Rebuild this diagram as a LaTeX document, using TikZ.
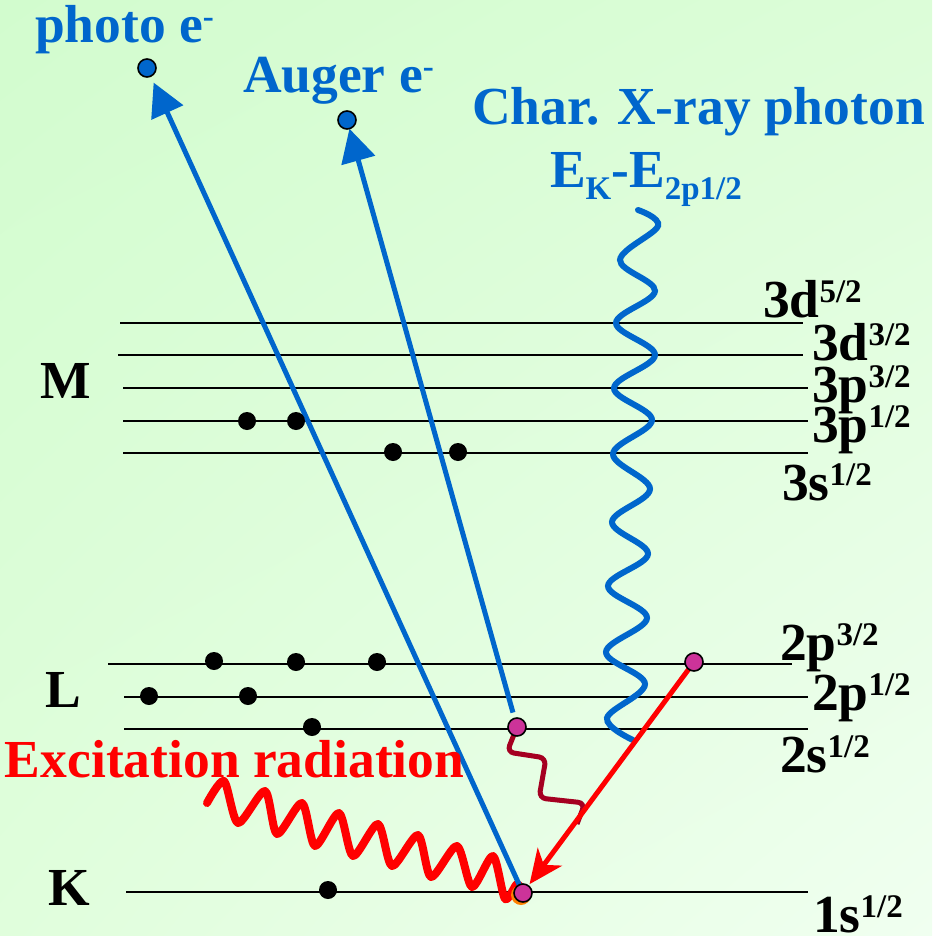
\documentclass[tikz,border=0pt]{standalone}
\usepackage{fontspec}
\setmainfont{Liberation Serif}
\usetikzlibrary{arrows.meta,shadings}
\definecolor{eblue}{HTML}{0066CC}
\definecolor{emag}{HTML}{CC3399}
\definecolor{dred}{HTML}{A50021}
\definecolor{bgUL}{HTML}{D2FCCE}
\definecolor{bgUR}{HTML}{DCFDD8}
\definecolor{bgLL}{HTML}{E0FEDC}
\definecolor{bgLR}{HTML}{F0FFF0}
\newcommand\sups[1]{\raisebox{15pt}{\fontsize{33}{33}\selectfont #1}}
\newcommand\subs[1]{\raisebox{-13pt}{\fontsize{33}{33}\selectfont #1}}
\pgfdeclarelayer{back}\pgfdeclarelayer{mid}
\pgfsetlayers{back,mid,main}
\begin{document}
\begin{tikzpicture}[x=1pt,y=-1pt,
  font=\fontsize{53.5}{60}\selectfont\bfseries,
  lbl/.style={anchor=base west,inner sep=0pt,outer sep=0pt},
  level/.style={line width=2pt,black},
  edot/.style={circle,fill=black,minimum size=18pt,inner sep=0pt,outer sep=0pt},
  mdot/.style={circle,fill=emag,draw=black,line width=1.6pt,minimum size=18pt,inner sep=0pt,outer sep=0pt},
  bdot/.style={circle,fill=eblue,draw=black,line width=1.6pt,minimum size=18pt,inner sep=0pt,outer sep=0pt},
  bluearrow/.style={eblue,line width=5pt,-{Triangle[length=33pt,width=34pt]}},
  redarrow/.style={red,line width=5pt,-{Stealth[length=34pt,width=30pt,inset=10pt]}},
  xwave/.style={eblue,line width=6pt,line cap=round},
  exwave/.style={red,line width=8pt,line cap=round,line join=round},
  augwave/.style={dred,line width=5pt,rounded corners=7pt}
]
\useasboundingbox (0,0) rectangle (932,936);
\begin{pgfonlayer}{back}
\shade[upper left=bgUL,upper right=bgUR,lower left=bgLL,lower right=bgLR] (0,0) rectangle (932,936);
\end{pgfonlayer}

% labels
\node[lbl,text=eblue] (photolbl) at (35,43) {photo e\sups{-}};
\node[lbl,text=eblue] (augerlbl) at (243,93) {Auger e\sups{-}};
\node[lbl,text=eblue] (charlbl) at (472,125) {Char. X-ray photon};
\node[lbl,text=eblue] (eklbl) at (550,187) {E\subs{K}-E\subs{2p1/2}};
\node[lbl] (Mlbl) at (40,398) {M};
\node[lbl] (Llbl) at (45,707) {L};
\node[lbl] (Klbl) at (48,905) {K};
\node[lbl,text=red] (exlbl) at (5,777) {Excitation radiation};
\node[lbl] (l3d5) at (763,317) {3d\sups{5/2}};
\node[lbl] (l3d3) at (812,360) {3d\sups{3/2}};
\node[lbl] (l3p3) at (812,402) {3p\sups{3/2}};
\node[lbl] (l3p1) at (812,442) {3p\sups{1/2}};
\node[lbl] (l3s1) at (782,500) {3s\sups{1/2}};
\node[lbl] (l2p3) at (780,660) {2p\sups{3/2}};
\node[lbl] (l2p1) at (812,710) {2p\sups{1/2}};
\node[lbl] (l2s1) at (780,772) {2s\sups{1/2}};
\node[lbl] (l1s1) at (813,932) {1s\sups{1/2}};

% electrons
\node[edot] (m1) at (247,421) {};
\node[edot] (m2) at (296,421) {};
\node[edot] (m3) at (393,452) {};
\node[edot] (m4) at (458,452) {};
\node[edot] (a1) at (214,661) {};
\node[edot] (a2) at (296,662) {};
\node[edot] (a3) at (377,662) {};
\node[edot] (b1) at (149,696) {};
\node[edot] (b2) at (248,696) {};
\node[edot] (c1) at (312,727) {};
\node[edot] (k1) at (328,890) {};
\fill[orange] (521,895) circle (10pt);
\node[mdot] (kh) at (523,893) {};
\node[mdot] (lh) at (517,727) {};
\node[mdot] (lp) at (694,662) {};
\node[bdot] (photo) at (147,68) {};
\node[bdot] (auger) at (347,120) {};

\begin{pgfonlayer}{mid}
% levels
\draw[level] (120,323) -- (803,323);
\draw[level] (118,355) -- (803,355);
\draw[level] (123,388) -- (808,388);
\draw[level] (123,421) -- (808,421);
\draw[level] (123,453) -- (808,453);
\draw[level] (108,664) -- (792,664);
\draw[level] (124,697) -- (808,697);
\draw[level] (124,729) -- (808,729);
\draw[level] (126,892) -- (808,892);
% characteristic X-ray photon
\draw[xwave] plot[smooth,tension=0.6] coordinates {(638,210) (658,226) (620,260) (655,291) (616,323) (655,355) (614,388) (652,420) (613,454) (650,489) (612,522) (648,554) (608,586) (647,618) (606,652) (645,684) (607,718) (633,740)};
% excitation radiation
\draw[exwave] plot[smooth,tension=0.45] coordinates {(207,803) (224,781) (238,823) (265,791) (277,834) (302,803) (315,846) (339,813) (353,856) (378,824) (392,866) (418,835) (431,877) (457,846) (472,887) (493,856) (505,899) (517,884) (523,893)};
% Auger relaxation wave
\draw[augwave] (lh.center) -- (507,752) -- (546,758) -- (539,798) -- (585,803) -- (577,824);
% arrows
\draw[bluearrow,shorten >=7pt] (kh) -- (photo);
\draw[bluearrow,shorten <=6pt] (lh) -- (auger);
\draw[redarrow,shorten >=2pt] (lp) -- (kh);
\end{pgfonlayer}
\end{tikzpicture}
\end{document}
